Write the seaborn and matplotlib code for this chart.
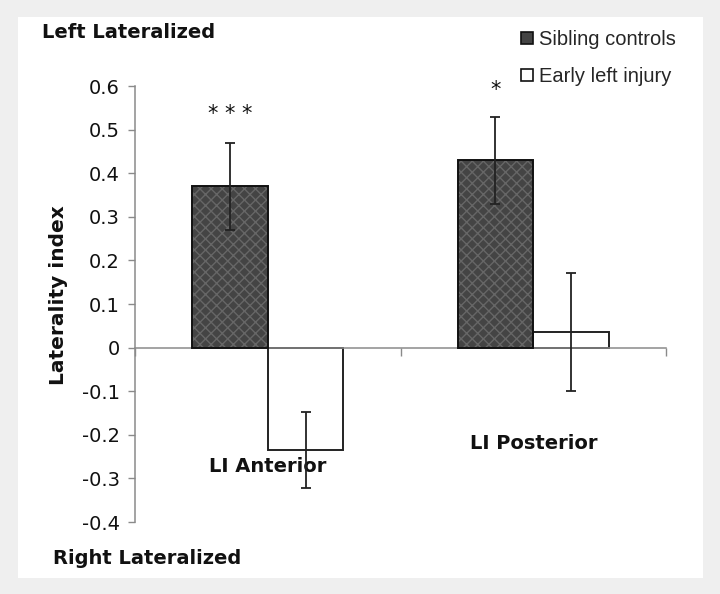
import matplotlib
matplotlib.use("Agg")
import matplotlib.pyplot as plt
from matplotlib.patches import Rectangle, Patch
import seaborn as sns
import pandas as pd

# ---- data ----
categories = ["LI Anterior", "LI Posterior"]
groups = ["Sibling controls", "Early left injury"]
sibling_vals = [0.37, 0.43]
injury_vals = [-0.235, 0.035]
sibling_err = [0.10, 0.10]
injury_err = [0.087, 0.135]
significance = ["* * *", "*"]
yticks = [-0.4, -0.3, -0.2, -0.1, 0, 0.1, 0.2, 0.3, 0.4, 0.5, 0.6]
ytick_labels = ["-0.4", "-0.3", "-0.2", "-0.1", "0", "0.1", "0.2", "0.3", "0.4", "0.5", "0.6"]

df = pd.DataFrame({
    "category": categories * 2,
    "group": [groups[0]] * 2 + [groups[1]] * 2,
    "value": sibling_vals + injury_vals,
    "err": sibling_err + injury_err,
})

sns.set_style("white")
plt.rcParams["font.family"] = ["DejaVu Sans"]

fig = plt.figure(figsize=(7.2, 5.94), dpi=100)
fig.patch.set_facecolor("#efefef")
fig.patches.append(Rectangle((18 / 720, 1 - 578 / 594), (703 - 18) / 720, (578 - 17) / 594,
                             transform=fig.transFigure, facecolor="white", edgecolor="none", zorder=-10))

ax = fig.add_axes([135 / 720, 1 - 522 / 594, (666 - 135) / 720, (522 - 86) / 594])
ax.set_facecolor("none")

dark = "#444444"
palette = {groups[0]: dark, groups[1]: "white"}
sns.barplot(data=df, x="category", y="value", hue="group", order=categories, hue_order=groups,
            palette=palette, width=0.57, errorbar=None, edgecolor="#222222", linewidth=1.4,
            legend=False, ax=ax)

# texture on dark bars + error bars
centers = {}
for p, (_, row) in zip(ax.patches, df.iterrows()):
    cx = p.get_x() + p.get_width() / 2
    centers[(row["category"], row["group"])] = cx
    if row["group"] == groups[0]:
        p.set_hatch("xxx")
        p.set_edgecolor("#666666")
        p.set_linewidth(0)
        ax.add_patch(Rectangle((p.get_x(), p.get_y()), p.get_width(), p.get_height(),
                               fill=False, edgecolor="#111111", linewidth=1.4, zorder=3))
    ax.errorbar(cx, row["value"], yerr=row["err"], fmt="none", ecolor="#222222",
                elinewidth=1.3, capsize=3.5, capthick=1.3, zorder=4)

ax.set_ylim(-0.4, 0.6)
ax.set_xlim(-0.5, 1.5)
ax.set_yticks(yticks)
ax.set_yticklabels(ytick_labels, fontsize=14, color="#111111")
ax.set_xticks([-0.5, 0.5, 1.5])
ax.set_xticklabels([])
ax.set_xlabel("")
ax.set_ylabel("")

for s in ["top", "right"]:
    ax.spines[s].set_visible(False)
ax.spines["bottom"].set_position(("data", 0))
for s in ["left", "bottom"]:
    ax.spines[s].set_color("#8a8a8a")
    ax.spines[s].set_linewidth(1.1)
ax.tick_params(axis="y", direction="out", length=5, width=1, color="#8a8a8a", pad=6, left=True)
ax.tick_params(axis="x", direction="out", length=6, width=1, color="#8a8a8a", bottom=True)

# category labels
cat_label_y = [-0.273, -0.22]
for i, (cat, yy) in enumerate(zip(categories, cat_label_y)):
    ax.text(i, yy, cat, ha="center", va="center", fontsize=14, fontweight="bold", color="#111111")

# significance marks
sig_y = [0.535, 0.59]
for cat, mark, yy in zip(categories, significance, sig_y):
    ax.text(centers[(cat, groups[0])], yy, mark, ha="center", va="center", fontsize=15, color="#111111")

fig.text(58 / 720, 1 - 295 / 594, "Laterality index", rotation=90, ha="center", va="center",
         fontsize=14.5, fontweight="bold", color="#111111")
fig.text(42 / 720, 1 - 33 / 594, "Left Lateralized", ha="left", va="center",
         fontsize=14, fontweight="bold", color="#111111")
fig.text(53 / 720, 1 - 558 / 594, "Right Lateralized", ha="left", va="center",
         fontsize=14, fontweight="bold", color="#111111")

handles = [Patch(facecolor=dark, edgecolor="#111111", linewidth=1.2),
           Patch(facecolor="white", edgecolor="#111111", linewidth=1.2)]
fig.legend(handles, groups, loc="upper left", bbox_to_anchor=(521 / 720, 1 - 30 / 594),
           frameon=False, handlelength=0.6, handleheight=0.6, handletextpad=0.3,
           labelspacing=0.9, borderpad=0, borderaxespad=0,
           prop={"family": "Liberation Sans", "size": 14.5})

fig.savefig("out.png", dpi=100, facecolor=fig.get_facecolor())
